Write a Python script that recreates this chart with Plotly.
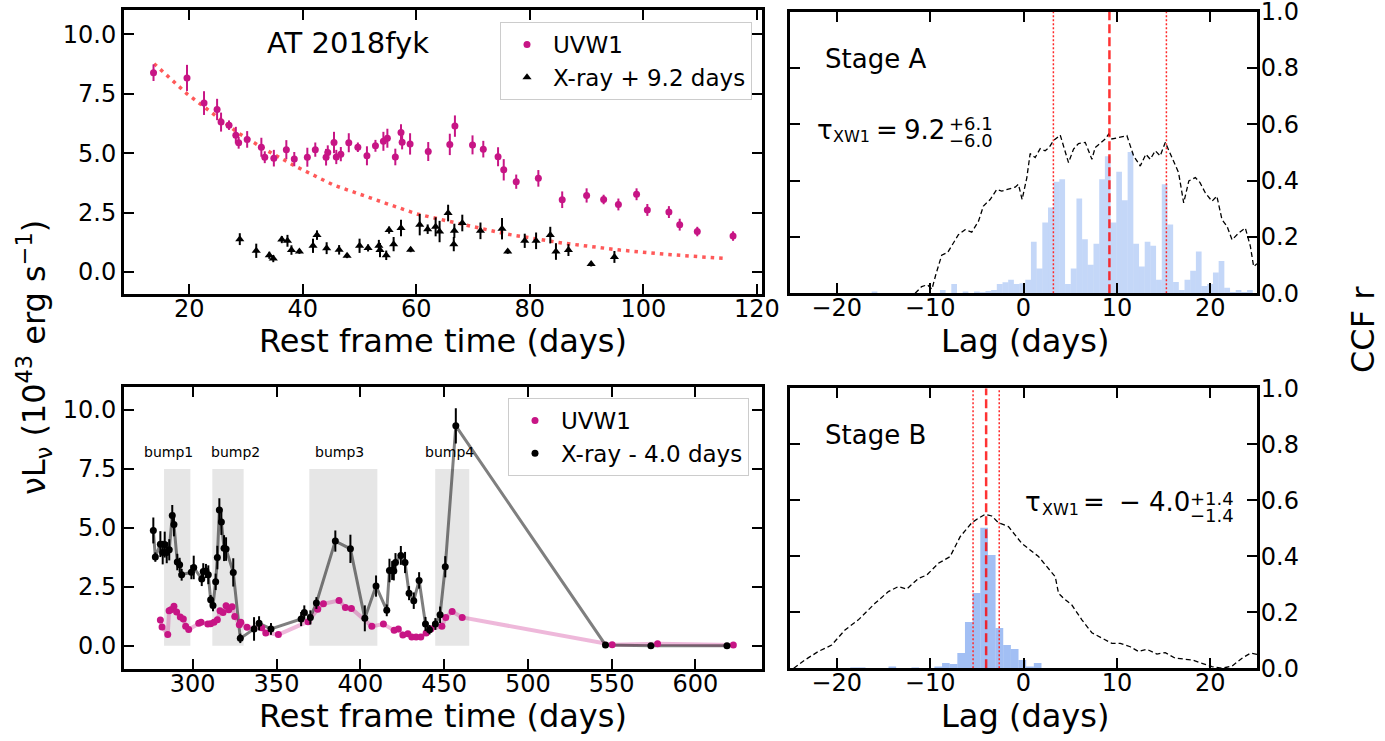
import numpy as np
import plotly.graph_objects as go

W, H = 1385, 741

# ---------------- Data: Stage A (top-left) ----------------
uvA_t = [13.7, 19.6, 22.6, 24.9, 25.6, 27.0, 28.2, 28.7, 30.2, 32.7, 33.3, 34.9, 37.1, 38.5, 40.8,
         42.2, 44.1, 44.4, 45.5, 45.9, 46.7, 48.1, 49.7, 51.3, 52.8, 54.2, 54.9, 56.3, 57.3, 57.5,
         58.9, 62.1, 65.9, 66.8, 69.9, 71.8, 74.4, 75.4, 77.6, 81.5, 85.7, 90.0, 93.0, 95.6, 98.8,
         100.7, 104.5, 106.4, 109.5, 115.8]
uvA_v = [8.39, 8.17, 7.11, 6.84, 6.31, 6.18, 5.76, 5.44, 5.58, 5.25, 4.83, 4.79, 5.15, 4.75, 4.83,
         5.15, 4.83, 5.03, 5.45, 4.84, 4.96, 5.44, 5.25, 4.89, 5.31, 5.50, 5.63, 4.84, 5.87, 5.46,
         5.39, 5.07, 5.37, 6.14, 5.35, 5.17, 4.85, 4.30, 3.80, 3.94, 3.04, 3.22, 3.05, 2.84, 3.27,
         2.61, 2.52, 1.99, 1.70, 1.51]
uvA_e = [0.35, 0.55, 0.5, 0.45, 0.4, 0.2, 0.35, 0.25, 0.35, 0.4, 0.25, 0.35, 0.4, 0.3, 0.4,
         0.3, 0.35, 0.3, 0.45, 0.3, 0.3, 0.4, 0.2, 0.4, 0.25, 0.4, 0.4, 0.35, 0.35, 0.3,
         0.45, 0.4, 0.45, 0.45, 0.4, 0.35, 0.4, 0.45, 0.3, 0.35, 0.35, 0.3, 0.2, 0.25, 0.25,
         0.25, 0.25, 0.25, 0.2, 0.2]

xrA_t = [28.9, 31.8, 34.1, 34.8, 36.3, 37.3, 38.0, 39.4, 41.8, 42.5, 44.2, 46.4, 47.8, 50.0, 51.5,
         53.4, 53.6, 54.7, 55.2, 56.0, 57.3, 59.0, 60.6, 62.0, 63.4, 64.1, 65.6, 66.6, 66.7, 68.1,
         71.3, 75.1, 76.1, 79.1, 81.1, 83.6, 84.6, 86.8, 90.8, 94.9]
xrA_v = [1.38, 0.89, 0.70, 0.56, 1.36, 1.31, 0.92, 0.86, 1.10, 1.55, 1.00, 0.93, 0.68, 1.10, 1.01,
         1.10, 0.92, 0.70, 1.76, 1.17, 1.85, 0.93, 1.99, 1.80, 1.90, 1.70, 2.48, 1.17, 1.73, 2.06,
         1.73, 1.82, 0.86, 1.31, 1.31, 1.55, 0.86, 0.92, 0.33, 0.63]
xrA_e = [0.25, 0.3, 0.15, 0.15, 0.15, 0.25, 0.2, 0.1, 0.3, 0.2, 0.25, 0.2, 0.1, 0.3, 0.15,
         0.25, 0.3, 0.2, 0.15, 0.3, 0.35, 0.1, 0.45, 0.2, 0.4, 0.45, 0.35, 0.3, 0.3, 0.35,
         0.35, 0.45, 0.1, 0.3, 0.35, 0.35, 0.35, 0.25, 0.1, 0.25]

fit_t = [13.8, 19.6, 28.7, 33.7, 38.7, 45.4, 54.5, 60.1, 65.4, 76.0, 85.9, 95.9, 104.0, 114.7]
fit_v = [8.77, 7.50, 5.84, 5.11, 4.45, 3.66, 2.90, 2.44, 2.15, 1.59, 1.21, 0.92, 0.74, 0.56]

# ---------------- Data: Stage B (bottom-left) ----------------
uvB_t = [280.7, 281.7, 285.1, 285.9, 287.0, 288.8, 290.4, 292.6, 294.4, 295.8, 297.6, 303.6, 305.0,
         309.0, 310.7, 312.7, 314.7, 316.3, 318.1, 319.9, 321.5, 323.5, 325.1, 327.8, 328.7, 332.4,
         341.2, 343.6, 351.1, 368.8, 374.6, 378.0, 387.3, 391.1, 394.7, 406.9, 413.8, 420.2, 422.7,
         425.4, 428.4, 430.7, 433.3, 436.1, 439.3, 442.1, 448.7, 451.0, 454.8, 460.8, 550.3, 577.4,
         622.6]
uvB_v = [1.09, 0.79, 0.47, 1.48, 1.53, 1.67, 1.43, 1.22, 1.13, 0.82, 0.69, 0.95, 0.99,
         0.92, 0.93, 0.99, 1.10, 1.48, 1.41, 1.69, 1.53, 1.65, 1.24, 0.89, 0.99, 0.78,
         0.76, 0.54, 0.47, 1.02, 1.55, 1.78, 1.92, 1.62, 1.58, 0.82, 0.92, 0.65, 0.71,
         0.45, 0.51, 0.37, 0.37, 0.37, 0.54, 0.71, 0.82, 1.20, 1.45, 1.20, 0.04, 0.08,
         0.03]

xrB_t = [276.5, 277.7, 280.7, 282.1, 283.3, 284.5, 286.0, 287.8, 288.8, 290.8, 292.2, 293.4, 299.2,
         300.6, 305.4, 306.3, 307.9, 309.3, 310.7, 312.1, 313.7, 314.7, 315.9, 317.1, 318.7, 319.9,
         324.2, 328.4, 336.6, 339.6, 346.7, 364.7, 366.6, 370.2, 373.8, 385.1, 394.1, 402.7, 409.4,
         415.8, 417.4, 419.0, 420.0, 421.0, 424.2, 426.7, 429.1, 431.9, 435.1, 438.9, 441.3, 444.8,
         447.6, 450.7, 457.0, 546.3, 573.4, 618.8]
xrB_v = [4.89, 3.76, 4.31, 3.95, 4.29, 3.95, 4.07, 5.52, 5.14, 3.55, 3.43, 3.01, 3.12,
         3.32, 2.83, 3.15, 3.17, 3.01, 1.95, 1.71, 2.71, 3.74, 5.76, 5.25, 4.14, 4.10,
         3.11, 0.31, 0.71, 0.95, 0.71, 1.13, 1.41, 1.20, 1.81, 4.44, 4.11, 1.16, 2.53,
         1.50, 3.19, 3.19, 3.17, 3.53, 3.83, 3.53, 2.23, 1.91, 2.77, 0.92, 0.68, 0.92,
         1.31, 3.35, 9.33, 0.03, 0.0, 0.0]
xrB_e = [0.55, 0.2, 0.55, 0.5, 0.55, 0.45, 0.45, 0.45, 0.5, 0.35, 0.3, 0.25, 0.3,
         0.5, 0.3, 0.35, 0.3, 0.4, 0.2, 0.25, 0.35, 0.5, 0.5, 0.55, 0.55, 0.5,
         0.6, 0.2, 0.5, 0.3, 0.25, 0.3, 0.3, 0.3, 0.25, 0.45, 0.6, 0.55, 0.45,
         0.25, 0.5, 0.4, 0.4, 0.4, 0.4, 0.45, 0.3, 0.35, 0.35, 0.3, 0.2, 0.25,
         0.35, 0.45, 0.75, 0.05, 0.05, 0.05]

bump_names = ["bump1", "bump2", "bump3", "bump4"]
bump_start = [282.9, 311.7, 369.6, 444.7]
bump_end = [298.6, 330.4, 410.2, 465.0]
bump_label_t = [285.4, 325.7, 387.3, 453.0]
bump_top = 7.5
bump_label_v = 8.2

# ---------------- Data: CCF panels ----------------
ccfA_lag = [-11.6, -10.9, -10.3, -9.8, -9.4, -8.76, -8.1, -7.6, -6.97, -6.25, -5.54, -4.82, -4.29,
            -3.57, -2.86, -2.33, -1.61, -0.89, -0.54, -0.15, 0.36, 0.71, 1.25, 1.79, 2.32, 2.75,
            3.21, 3.93, 4.82, 5.36, 5.89, 6.61, 7.32, 7.68, 8.75, 9.11, 9.46, 10.18, 11.07, 11.79,
            12.5, 13.1, 13.57, 14.11, 14.64, 15.18, 16.08, 16.6, 17.15, 17.7, 18.4, 18.9, 19.46,
            20.18, 20.7, 21.25, 21.79, 22.33, 23.04, 23.75, 24.29, 24.64, 25.0]
ccfA_r = [0.0, 0.024, 0.03, 0.015, 0.065, 0.135, 0.146, 0.175, 0.208, 0.226, 0.217, 0.256, 0.31,
          0.333, 0.369, 0.363, 0.369, 0.377, 0.387, 0.333, 0.411, 0.496, 0.482, 0.514, 0.506, 0.518,
          0.542, 0.562, 0.464, 0.512, 0.532, 0.536, 0.476, 0.518, 0.548, 0.565, 0.548, 0.554, 0.56,
          0.488, 0.452, 0.494, 0.476, 0.506, 0.488, 0.536, 0.464, 0.429, 0.321, 0.399, 0.411, 0.393,
          0.357, 0.327, 0.345, 0.262, 0.238, 0.19, 0.214, 0.232, 0.167, 0.095, 0.105]

ccfB_lag = [-24.6, -23.4, -21.97, -20.54, -19.11, -17.68, -15.9, -14.47, -13.4, -12.5, -11.25, -10.36,
            -9.11, -7.86, -6.78, -5.54, -4.82, -4.1, -3.4, -2.68, -1.61, -0.18, 1.61, 3.4, 3.75,
            4.29, 5.18, 5.89, 6.25, 7.32, 8.39, 9.46, 10.36, 11.43, 12.32, 13.2, 14.29, 15.18,
            16.25, 18.04, 19.11, 20.18, 21.25, 22.33, 23.4, 24.3, 25.0]
ccfB_r = [0.0, 0.03, 0.06, 0.083, 0.137, 0.173, 0.232, 0.274, 0.292, 0.283, 0.321, 0.333,
          0.375, 0.399, 0.47, 0.52, 0.536, 0.55, 0.544, 0.52, 0.506, 0.446, 0.399, 0.327, 0.268,
          0.25, 0.226, 0.19, 0.173, 0.127, 0.107, 0.089, 0.089, 0.077, 0.06, 0.068, 0.051, 0.056,
          0.036, 0.03, 0.018, 0.006, 0.0, 0.008, 0.036, 0.054, 0.05]

# Histogram of lags (first bin edge and bin width in days, normalised heights)
histA_edge0 = -16.255
histA_width = 0.609
histA_h = [0.006, 0, 0, 0, 0, 0, 0, 0, 0, 0, 0, 0, 0.012, 0, 0.033, 0, 0.006, 0, 0.006, 0.004, 0.008,
           0.012, 0.033, 0.039, 0.048, 0.033, 0.036, 0.048, 0.183, 0.088, 0.251, 0.305, 0.396, 0.405,
           0.033, 0.088, 0.337, 0.192, 0.101, 0.176, 0.405, 0.487, 0.251, 0.432, 0.330, 0.502, 0.176,
           0.095, 0.183, 0.169, 0.048, 0.387, 0.244, 0.040, 0.012, 0.048, 0.080, 0.148, 0.026, 0.033,
           0.074, 0.115, 0.020, 0.005, 0.012, 0.005, 0.012]

histB_edge0 = -18.55
histB_width = 0.819
histB_h = [0.003, 0.003, 0, 0, 0, 0.006, 0, 0, 0.003, 0, 0, 0.006, 0.019, 0.015, 0.055, 0.165,
           0.269, 0.502, 0.405, 0.144, 0.083, 0.069, 0.030, 0.006, 0.019]

lagA, lagA_lo, lagA_hi = 9.2, 6.0, 6.1
lagB, lagB_lo, lagB_hi = -4.0, 1.4, 1.4

ccf_ticks = [0.0, 0.2, 0.4, 0.6, 0.8, 1.0]

# ---------------- Styles ----------------
FONT = "DejaVu Sans"
MAG = "#C71585"
TICK = 24


def fx(p):
    return p / W


def fy(p):
    return 1 - p / H


fig = go.Figure()

# ---- Top-left ----
fig.add_trace(go.Scatter(x=fit_t, y=fit_v, mode="lines", xaxis="x", yaxis="y",
                         line=dict(color="rgba(255,60,60,0.85)", width=3.5, dash="3.5px,5px"),
                         showlegend=False, hoverinfo="skip"))
fig.add_trace(go.Scatter(x=uvA_t, y=uvA_v, mode="markers", xaxis="x", yaxis="y", name="UVW1",
                         marker=dict(color=MAG, size=7),
                         error_y=dict(type="data", array=uvA_e, color=MAG, thickness=2, width=0),
                         legend="legend"))
fig.add_trace(go.Scatter(x=xrA_t, y=xrA_v, mode="markers", xaxis="x", yaxis="y", name="X-ray + 9.2 days",
                         marker=dict(color="black", size=8, symbol="triangle-up"),
                         error_y=dict(type="data", array=xrA_e, color="black", thickness=2, width=0),
                         legend="legend"))

# ---- Bottom-left ----
fig.add_trace(go.Scatter(x=uvB_t, y=uvB_v, mode="lines", xaxis="x3", yaxis="y3",
                         line=dict(color="rgba(199,21,133,0.3)", width=4),
                         showlegend=False, hoverinfo="skip"))
fig.add_trace(go.Scatter(x=xrB_t, y=xrB_v, mode="lines", xaxis="x3", yaxis="y3",
                         line=dict(color="rgba(0,0,0,0.5)", width=3),
                         showlegend=False, hoverinfo="skip"))
fig.add_trace(go.Scatter(x=uvB_t, y=uvB_v, mode="markers", xaxis="x3", yaxis="y3", name="UVW1",
                         marker=dict(color=MAG, size=7),
                         error_y=dict(type="data", array=[0.04] * len(uvB_v), color=MAG, thickness=2, width=0),
                         legend="legend2"))
fig.add_trace(go.Scatter(x=xrB_t, y=xrB_v, mode="markers", xaxis="x3", yaxis="y3", name="X-ray - 4.0 days",
                         marker=dict(color="black", size=7),
                         error_y=dict(type="data", array=xrB_e, color="black", thickness=2, width=0),
                         legend="legend2"))

# ---- Right panels: histograms + CCF ----
centA = histA_edge0 + histA_width * (np.arange(len(histA_h)) + 0.5)
centB = histB_edge0 + histB_width * (np.arange(len(histB_h)) + 0.5)
fig.add_trace(go.Bar(x=centA, y=histA_h, width=histA_width, xaxis="x2", yaxis="y2",
                     marker=dict(color="rgba(100,149,237,0.38)", line=dict(width=0)),
                     showlegend=False, hoverinfo="skip"))
fig.add_trace(go.Bar(x=centB, y=histB_h, width=histB_width, xaxis="x4", yaxis="y4",
                     marker=dict(color="rgba(100,149,237,0.6)", line=dict(width=0)),
                     showlegend=False, hoverinfo="skip"))
fig.add_trace(go.Scatter(x=ccfA_lag, y=ccfA_r, mode="lines", xaxis="x2", yaxis="y2",
                         line=dict(color="black", width=1.3, dash="5px,3px"),
                         showlegend=False, hoverinfo="skip"))
fig.add_trace(go.Scatter(x=ccfB_lag, y=ccfB_r, mode="lines", xaxis="x4", yaxis="y4",
                         line=dict(color="black", width=1.3, dash="5px,3px"),
                         showlegend=False, hoverinfo="skip"))

shapes = []
for s, e in zip(bump_start, bump_end):
    shapes.append(dict(type="rect", xref="x3", yref="y3", x0=s, x1=e, y0=0, y1=bump_top,
                       fillcolor="rgba(128,128,128,0.2)", line=dict(width=0), layer="below"))

for xr, yr, lag, lo, hi in [("x2", "y2", lagA, lagA_lo, lagA_hi), ("x4", "y4", lagB, lagB_lo, lagB_hi)]:
    shapes.append(dict(type="line", xref=xr, yref=yr, x0=lag, x1=lag, y0=0, y1=1,
                       line=dict(color="rgba(255,0,0,0.8)", width=2.5, dash="9px,4px")))
    for v in (lag - lo, lag + hi):
        shapes.append(dict(type="line", xref=xr, yref=yr, x0=v, x1=v, y0=0, y1=1,
                           line=dict(color="rgb(255,40,40)", width=1.5, dash="2px,2px")))

ann = []


def text(x, y, t, size, xanchor="center", yanchor="middle", angle=0):
    ann.append(dict(x=fx(x), y=fy(y), xref="paper", yref="paper", text=t, showarrow=False,
                    xanchor=xanchor, yanchor=yanchor, textangle=angle,
                    font=dict(family=FONT, size=size, color="black")))


text(348, 43, "AT 2018fyk", 29)
text(443, 341, "Rest frame time (days)", 32)
text(443, 716, "Rest frame time (days)", 32)
text(1025, 341, "Lag (days)", 32)
text(1025, 716, "Lag (days)", 32)
text(34, 358, "νL<sub>ν</sub> (10<sup>43</sup> erg s<sup>−1</sup>)", 32, angle=-90)
text(1363, 330, "CCF r", 32, angle=-90)
text(823, 59, "Stage A", 26, xanchor="left")
text(823, 435, "Stage B", 26, xanchor="left")

# tau annotations built piecewise (mathtext-like layout)
text(815, 129.5, "τ", 26, xanchor="left")
text(831, 137, "XW1", 16, xanchor="left")
text(887, 129.5, "=", 26)
text(902, 129.5, "9.2", 26, xanchor="left")
text(947, 123.5, "+6.1", 18, xanchor="left")
text(947, 140.5, "−6.0", 18, xanchor="left")

text(1023, 502, "τ", 26, xanchor="left")
text(1040, 510, "XW1", 16, xanchor="left")
text(1094, 502, "=", 26)
text(1130, 502, "−", 26)
text(1147, 502, "4.0", 26, xanchor="left")
text(1188, 498.5, "+1.4", 18, xanchor="left")
text(1188, 515, "−1.4", 18, xanchor="left")

for name, t in zip(bump_names, bump_label_t):
    ann.append(dict(x=t, y=bump_label_v, xref="x3", yref="y3", text=name, showarrow=False,
                    xanchor="center", yanchor="middle", font=dict(family=FONT, size=14, color="black")))

axis_common = dict(showline=True, linecolor="black", linewidth=3, mirror="allticks", ticks="inside",
                   ticklen=10, tickwidth=2, tickcolor="black", showgrid=False, zeroline=False,
                   automargin=False, ticklabeloverflow="allow",
                   tickfont=dict(family=FONT, size=TICK, color="black"))
xcommon = dict(axis_common, ticklabelstandoff=-9)
ycommon_r = dict(axis_common, ticklabelstandoff=-4)

left_dom = [fx(124), fx(762)]
right_dom = [fx(790), fx(1257)]

legend_common = dict(xanchor="right", yanchor="top", bordercolor="#cccccc", borderwidth=1,
                     bgcolor="rgba(255,255,255,0.8)", itemwidth=42,
                     font=dict(family=FONT, size=23, color="black"))

fig.update_layout(
    width=W, height=H, margin=dict(l=0, r=0, t=0, b=0, pad=0, autoexpand=False),
    autosize=False,
    paper_bgcolor="white", plot_bgcolor="white", barmode="overlay",
    font=dict(family=FONT, color="black"),
    xaxis=dict(domain=left_dom, anchor="y", range=[8.5, 120.9], tick0=0, dtick=20, **xcommon),
    yaxis=dict(domain=[fy(294), fy(10)], anchor="x", range=[-0.93, 11.03], tick0=0, dtick=2.5,
               tickformat=".1f", **axis_common),
    xaxis2=dict(domain=right_dom, anchor="y2", range=[-25, 25], tick0=0, dtick=10, **xcommon),
    yaxis2=dict(domain=[fy(293.3), fy(11.7)], anchor="x2", range=[0, 1], tickmode="array",
                tickvals=ccf_ticks, ticktext=[f"{v:.1f}" for v in ccf_ticks], side="right", **ycommon_r),
    xaxis3=dict(domain=left_dom, anchor="y3", range=[259, 639.7], tick0=0, dtick=50, **xcommon),
    yaxis3=dict(domain=[fy(669), fy(386.5)], anchor="x3", range=[-0.99, 11.0], tick0=0, dtick=2.5,
                tickformat=".1f", **axis_common),
    xaxis4=dict(domain=right_dom, anchor="y4", range=[-25, 25], tick0=0, dtick=10, **xcommon),
    yaxis4=dict(domain=[fy(668.3), fy(388.3)], anchor="x4", range=[0, 1], tickmode="array",
                tickvals=ccf_ticks, ticktext=[f"{v:.1f}" for v in ccf_ticks], side="right", **ycommon_r),
    legend=dict(x=fx(752), y=fy(22), **legend_common),
    legend2=dict(x=fx(749), y=fy(398), **legend_common),
    shapes=shapes, annotations=ann,
)

fig.write_html("out.html")
